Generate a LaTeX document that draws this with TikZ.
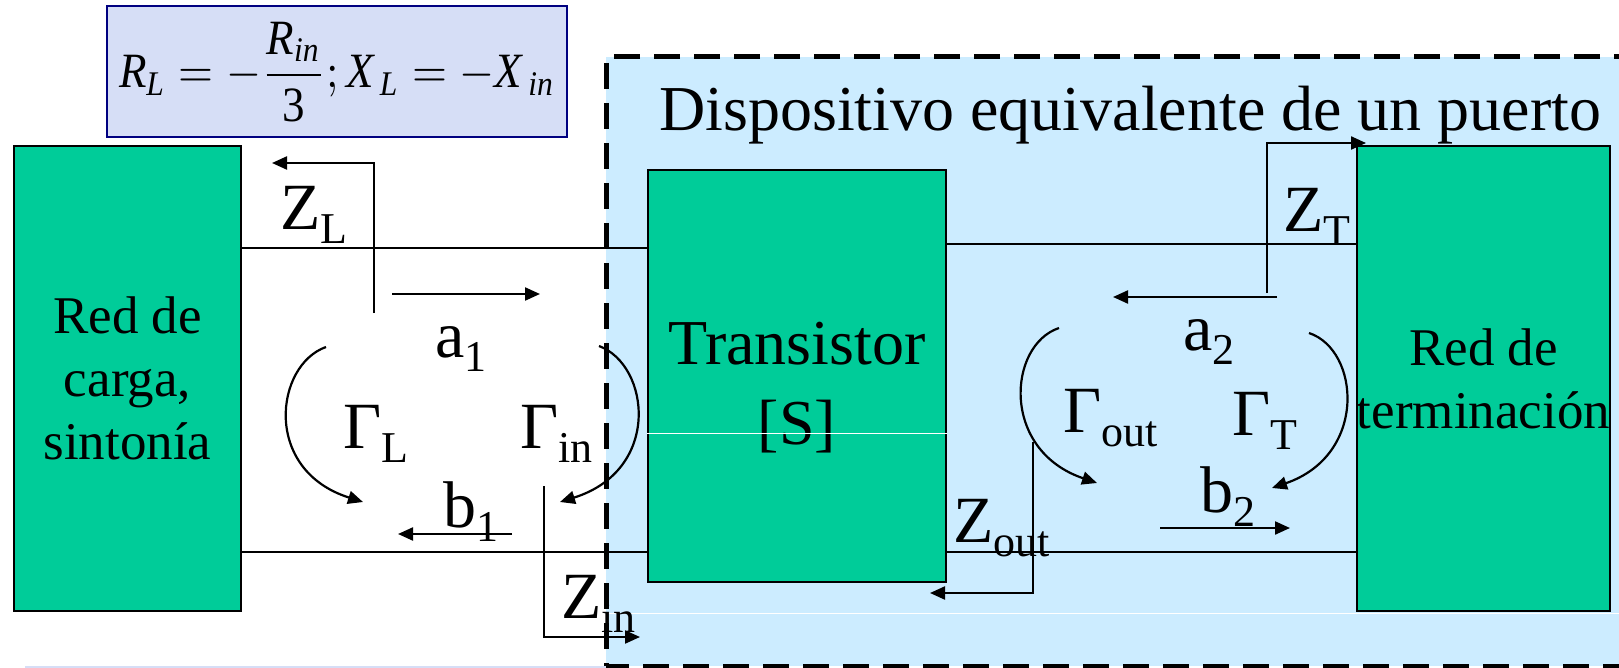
\documentclass[tikz,border=0pt]{standalone}
\usepackage{fontspec}
\setmainfont{Liberation Serif}
\usepackage{tikz}
\usetikzlibrary{
    arrows.meta,
    positioning,
    calc
}
\definecolor{NetGreen}{RGB}{0,204,153}
\definecolor{PortBlue}{RGB}{204,236,255}
\definecolor{EqLilac}{RGB}{214,222,246}
\definecolor{EqNavy}{RGB}{0,0,128}
\newcommand{\lab}[2]{#1\raisebox{-14pt}{\fontsize{44}{44}\selectfont #2}}
\tikzset{
  net/.style   = {draw, line width=2pt, fill=NetGreen, align=center,
                  inner sep=0pt, font=\fontsize{53}{63}\selectfont},
  wire/.style  = {line width=2.2pt},
  arr/.style   = {line width=2.2pt, -{Triangle[length=15pt,width=13pt]}},
  lbl/.style   = {anchor=base west, inner sep=0pt, font=\fontsize{66}{66}\selectfont}
}

\begin{document}
\begin{tikzpicture}[x=1pt, y=-1pt]
\useasboundingbox (0,0) rectangle (1619,668);

% zona del dispositivo de un puerto
\fill[PortBlue] (606,57) rectangle (1640,666);
\draw[line width=5pt, dash pattern=on 26pt off 14pt]
    (1640,57) -- (606,57) -- (606,666) -- (1640,666);
\coordinate (wl0) at (606,613);
\coordinate (wl1) at (1619,613);
\draw[white, line width=1pt] (wl0) -- (wl1);
\coordinate (ll0) at (25,667);
\coordinate (ll1) at (606,667);
\draw[EqLilac, line width=2pt] (ll0) -- (ll1);

\node[draw=EqNavy, line width=2pt, fill=EqLilac, minimum width=460pt,
      minimum height=131pt, inner sep=0pt] (eq) at (337,72)
    {\raisebox{-4pt}{\resizebox*{436pt}{100pt}{$\displaystyle \mathit{R}_{\mathit{L}}=-\frac{\mathit{R}_{\mathit{in}}}{\mathrm{3}};
      \mathit{X}_{\,\mathit{L}}=-\mathit{X}_{\,\mathit{in}}$}}};

\node[anchor=base west, inner sep=0pt, font=\fontsize{64}{64}\selectfont]
    (title) at (659,131) {Dispositivo equivalente de un puerto};

% bloques
\node[net, minimum width=227pt, minimum height=465pt] (lnet) at (127.5,378.5)
    {Red de\\carga,\\sintonía};
\node[net, minimum width=298pt, minimum height=412pt] (trans) at (797,376) {};
\node[align=center, font=\fontsize{64}{80}\selectfont] (transtxt)
    at ([yshift=-12pt]trans.center) {Transistor\\{[S]}};
\node[net, minimum width=251pt, minimum height=465pt] (rnet) at (1483.5,378.5)
    {Red de\\terminación};
\coordinate (mid) at (0,433);
\draw[white, line width=1pt] (trans.west |- mid) -- (trans.east |- mid);

% lineas de transmision
\coordinate (tl) at (0,248);
\coordinate (tr) at (0,244);
\coordinate (bt) at (0,552);
\draw[wire] (lnet.east |- tl) -- (trans.west |- tl);
\draw[wire] (lnet.east |- bt) -- (trans.west |- bt);
\draw[wire] (trans.east |- tr) -- (rnet.west |- tr);
\draw[wire] (trans.east |- bt) -- (rnet.west |- bt);

% impedancias
\coordinate (zl0) at (374,313);
\coordinate (zl1) at (272,163);
\coordinate (zi0) at (544,486);
\coordinate (zi1) at (640,637);
\coordinate (zt0) at (1267,293);
\coordinate (zt1) at (1366,143);
\coordinate (zo0) at (1033,442);
\coordinate (zo1) at (930,593);
\draw[arr] (zl0) |- (zl1);
\draw[arr] (zi0) |- (zi1);
\draw[arr] (zt0) |- (zt1);
\draw[arr] (zo0) |- (zo1);

% ondas
\coordinate (a10) at (392,294);
\coordinate (a11) at (540,294);
\coordinate (b10) at (512,534);
\coordinate (b11) at (398,534);
\coordinate (a20) at (1277,297);
\coordinate (a21) at (1113,297);
\coordinate (b20) at (1160,528);
\coordinate (b21) at (1290,528);
\draw[arr] (a10) -- (a11);
\draw[arr] (b10) -- (b11);
\draw[arr] (a20) -- (a21);
\draw[arr] (b20) -- (b21);

% coeficientes de reflexion
\coordinate (gl0) at (326,347);
\coordinate (gl1) at (363,502);
\coordinate (gi0) at (599,346);
\coordinate (gi1) at (560,502);
\coordinate (go0) at (1059,328);
\coordinate (go1) at (1097,483);
\coordinate (gt0) at (1309,333);
\coordinate (gt1) at (1272,488);
\draw[arr] (gl0) .. controls (275,365) and (262,470) .. (gl1);
\draw[arr] (gi0) .. controls (650,365) and (662,470) .. (gi1);
\draw[arr] (go0) .. controls (1008,345) and (1000,450) .. (go1);
\draw[arr] (gt0) .. controls (1360,350) and (1368,455) .. (gt1);

% etiquetas
\node[lbl] (lZL)  at (280,230)  {\lab{Z}{L}};
\node[lbl] (la1)  at (435,357)  {\lab{a}{1}};
\node[lbl] (lGL)  at (343,448)  {\lab{Γ}{L}};
\node[lbl] (lGin) at (520,448)  {\lab{Γ}{in}};
\node[lbl] (lb1)  at (443,527)  {\lab{b}{1}};
\node[lbl] (lZin) at (561,618)  {\lab{Z}{in}};
\node[lbl] (lZT)  at (1283,232) {\lab{Z}{T}};
\node[lbl] (la2)  at (1183,350) {\lab{a}{2}};
\node[lbl] (lGo)  at (1063,432) {\lab{Γ}{out}};
\node[lbl] (lGT)  at (1232,435) {\lab{Γ}{T}};
\node[lbl] (lb2)  at (1200,512) {\lab{b}{2}};
\node[lbl] (lZo)  at (953,542)  {\lab{Z}{out}};
\end{tikzpicture}
\end{document}
